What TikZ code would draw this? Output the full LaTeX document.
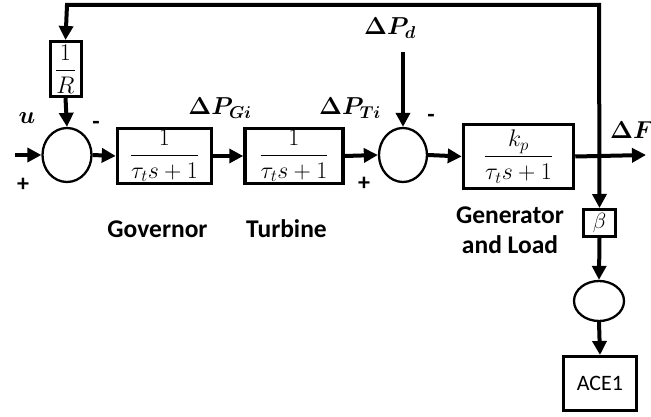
\RequirePackage{fix-cm}
\documentclass[tikz,border=0pt]{standalone}
\usepackage{amsmath,bm}
\usepackage{fontspec}
\newfontfamily\carl{Carlito}
\usetikzlibrary{arrows.meta,shapes.geometric}
\begin{document}
\begin{tikzpicture}[x=1pt,y=-1pt,
  conn/.style={line width=4pt,-{Triangle[length=14pt,width=14pt]}},
  blockbox/.style={draw,line width=3.5pt,inner sep=0pt,font=\fontsize{24}{28}\selectfont},
  sumnode/.style={draw,ellipse,line width=2.3pt,inner sep=0pt},
  lbl/.style={font=\carl\bfseries\fontsize{25.5}{30}\selectfont,align=center},
  mlbl/.style={font=\fontsize{24.5}{28}\selectfont,inner sep=0pt},
  sgn/.style={font=\carl\bfseries\fontsize{24}{28}\selectfont,inner sep=0pt}]
\useasboundingbox (0,0) rectangle (651,417);
% blocks
\node[blockbox,line width=3pt,minimum width=31pt,minimum height=55pt] (R) at (65.5,69) {$\dfrac{1}{R}$};
\node[sumnode,minimum width=49pt,minimum height=54pt] (s1) at (67,155) {};
\node[blockbox,minimum width=94pt,minimum height=55pt] (gov) at (164.5,156) {$\dfrac{1}{\tau_t s+1}$};
\node[blockbox,minimum width=98pt,minimum height=55pt] (tur) at (294,156) {$\dfrac{1}{\tau_t s+1}$};
\node[sumnode,minimum width=48pt,minimum height=54pt] (s2) at (403,155) {};
\node[blockbox,minimum width=110pt,minimum height=64pt] (gen) at (518.5,156.5) {$\dfrac{k_p}{\tau_t s+1}$};
\node[blockbox,line width=3pt,minimum width=32pt,minimum height=27pt,font=\fontsize{22}{26}\selectfont] (beta) at (599.5,223) {$\beta$};
\node[sumnode,minimum width=50pt,minimum height=40pt] (s3) at (599,301) {};
\node[draw,line width=3pt,inner sep=0pt,minimum width=73pt,minimum height=54pt,font=\carl\fontsize{22}{26}\selectfont] (ace) at (600,383.5) {ACE1};
% coordinates
\coordinate (in) at (15,155);
\coordinate (tl) at (67,5);
\coordinate (tr) at (599,5);
\coordinate (pd) at (403,52);
\coordinate (out) at (646,155);
% connectors
\draw[conn] (in) -- (s1.west);
\draw[conn] (s1.east) -- (gov.west);
\draw[conn] (gov.east) -- (tur.west);
\draw[conn] (tur.east) -- (s2.west);
\draw[conn] (s2.east) -- (gen.west);
\draw[conn] (gen.east) -- (out);
\draw[conn] (pd) -- (s2.north);
\draw[line width=4pt,{Triangle[length=14pt,width=14pt]}-{Triangle[length=14pt,width=14pt]},line join=miter] (R.north) -- (tl) -- (tr) -- (beta.north);
\draw[conn] (R.south) -- (s1.north);
\draw[conn] (beta.south) -- (s3.north);
\draw[conn] (s3.south) -- (ace.north);
% labels
\node[mlbl] (lu) at (27,118) {$\bm{u}$};
\node[sgn] (p1) at (23,185) {+};
\node[sgn] (m1) at (96,125) {-};
\node[mlbl] (lpg) at (220,108) {$\bm{\Delta P_{Gi}}$};
\node[mlbl] (lpt) at (350,108) {$\bm{\Delta P_{Ti}}$};
\node[mlbl] (lpd) at (390,28) {$\bm{\Delta P_{d}}$};
\node[sgn] (m2) at (431,118) {-};
\node[sgn] (p2) at (364,184) {+};
\node[mlbl] (lf) at (632,130) {$\bm{\Delta F}$};
\node[lbl] (tgov) at (157.5,229) {Governor};
\node[lbl] (ttur) at (286.5,229) {Turbine};
\node[lbl,inner sep=0pt] (tgen) at (510,230) {Generator\\and Load};
\end{tikzpicture}
\end{document}
